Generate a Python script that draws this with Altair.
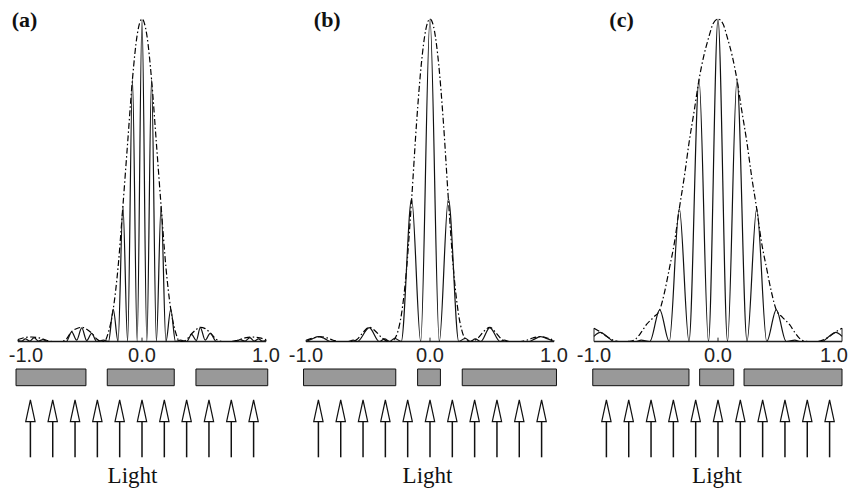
import altair as alt
import pandas as pd

# ---------------- data ----------------
TICKS = [-1.0, 0.0, 1.0]
TICK_LABELS = ["-1.0", "0.0", "1.0"]
ARROW_X = [-0.9, -0.72, -0.54, -0.36, -0.18, 0.0, 0.18, 0.36, 0.54, 0.72, 0.9]
PANEL_LABELS = ["(a)", "(b)", "(c)"]
CAPTION = "Light"

# interference pattern (x, relative intensity)
A_SOLID = [(-1.0, 0.004), (-0.97, 0.001), (-0.94, 0.008), (-0.905, 0.001), (-0.87, 0.012),
           (-0.835, 0.001), (-0.80, 0.006), (-0.76, 0.0), (-0.66, 0.0), (-0.61, 0.0),
           (-0.567, 0.03), (-0.527, 0.004), (-0.486, 0.042), (-0.446, 0.003), (-0.406, 0.025),
           (-0.365, 0.0), (-0.31, 0.004), (-0.27, 0.0), (-0.232, 0.10), (-0.193, 0.0),
           (-0.154, 0.42), (-0.116, 0.0), (-0.077, 0.813), (-0.039, 0.0), (0.0, 1.0),
           (0.039, 0.0), (0.077, 0.813), (0.116, 0.0), (0.154, 0.42), (0.193, 0.0),
           (0.232, 0.10), (0.27, 0.0), (0.31, 0.004), (0.36, 0.0), (0.40, 0.022),
           (0.438, 0.003), (0.47, 0.043), (0.51, 0.004), (0.55, 0.025), (0.60, 0.0),
           (0.66, 0.0), (0.76, 0.0), (0.79, 0.006), (0.83, 0.001), (0.87, 0.012),
           (0.905, 0.001), (0.94, 0.008), (0.97, 0.001), (1.0, 0.004)]
A_ENV = [(-1.0, 0.006), (-0.95, 0.012), (-0.89, 0.014), (-0.83, 0.011), (-0.77, 0.004),
         (-0.72, 0.0), (-0.66, 0.0), (-0.62, 0.004), (-0.567, 0.031), (-0.52, 0.041),
         (-0.486, 0.044), (-0.446, 0.038), (-0.406, 0.026), (-0.365, 0.008), (-0.33, 0.0),
         (-0.30, 0.002), (-0.27, 0.03), (-0.232, 0.10), (-0.193, 0.23), (-0.154, 0.42),
         (-0.116, 0.615), (-0.077, 0.813), (-0.039, 0.95), (0.0, 1.0), (0.039, 0.95),
         (0.077, 0.813), (0.116, 0.615), (0.154, 0.42), (0.193, 0.23), (0.232, 0.10),
         (0.27, 0.03), (0.30, 0.002), (0.33, 0.0), (0.365, 0.008), (0.40, 0.024),
         (0.44, 0.038), (0.47, 0.044), (0.51, 0.04), (0.55, 0.027), (0.61, 0.004),
         (0.66, 0.0), (0.72, 0.0), (0.77, 0.004), (0.83, 0.011), (0.885, 0.014),
         (0.95, 0.011), (1.0, 0.006)]
A_SLITS = [(-1.016, -0.452), (-0.28, 0.26), (0.435, 1.014)]
A_EDGE = [(-1.0, 0.006), (1.0, 0.006)]

B_SOLID = [(-1.0, 0.0), (-0.95, 0.008), (-0.90, 0.015), (-0.85, 0.009), (-0.80, 0.0),
           (-0.66, 0.0), (-0.62, 0.004), (-0.585, 0.0), (-0.49, 0.043), (-0.41, 0.0),
           (-0.365, 0.008), (-0.325, 0.0), (-0.285, 0.01), (-0.232, 0.0), (-0.148, 0.442),
           (-0.075, 0.0), (0.0, 1.0), (0.075, 0.0), (0.148, 0.442), (0.232, 0.0),
           (0.285, 0.01), (0.325, 0.0), (0.365, 0.008), (0.41, 0.0), (0.482, 0.043),
           (0.565, 0.0), (0.60, 0.004), (0.64, 0.0), (0.80, 0.0), (0.85, 0.009),
           (0.89, 0.015), (0.95, 0.008), (1.0, 0.0)]
B_ENV = [(-1.0, 0.004), (-0.95, 0.01), (-0.89, 0.015), (-0.83, 0.011), (-0.78, 0.004),
         (-0.74, 0.0), (-0.63, 0.0), (-0.59, 0.006), (-0.54, 0.028), (-0.49, 0.044),
         (-0.44, 0.032), (-0.39, 0.012), (-0.35, 0.002), (-0.32, 0.0), (-0.29, 0.006),
         (-0.26, 0.03), (-0.23, 0.085), (-0.19, 0.22), (-0.148, 0.442), (-0.108, 0.68),
         (-0.07, 0.86), (-0.035, 0.965), (0.0, 1.0), (0.035, 0.965), (0.07, 0.86),
         (0.108, 0.68), (0.148, 0.442), (0.19, 0.22), (0.23, 0.085), (0.26, 0.03),
         (0.29, 0.006), (0.32, 0.0), (0.35, 0.002), (0.39, 0.012), (0.435, 0.032),
         (0.482, 0.044), (0.53, 0.028), (0.58, 0.006), (0.62, 0.0), (0.73, 0.0),
         (0.78, 0.004), (0.83, 0.011), (0.885, 0.015), (0.95, 0.01), (1.0, 0.004)]
B_SLITS = [(-1.02, -0.276), (-0.10, 0.084), (0.26, 1.02)]
B_EDGE = [(-1.0, 0.004), (1.0, 0.004)]

C_SOLID = [(-1.0, 0.016), (-0.95, 0.028), (-0.89, 0.014), (-0.84, 0.0), (-0.66, 0.0),
           (-0.62, 0.004), (-0.55, 0.0), (-0.47, 0.098), (-0.393, 0.0), (-0.312, 0.412),
           (-0.234, 0.0), (-0.153, 0.812), (-0.077, 0.0), (0.0, 1.0), (0.077, 0.0),
           (0.153, 0.812), (0.234, 0.0), (0.312, 0.412), (0.393, 0.0), (0.47, 0.098),
           (0.55, 0.0), (0.62, 0.004), (0.66, 0.0), (0.84, 0.0), (0.89, 0.014),
           (0.95, 0.028), (1.0, 0.016)]
C_ENV = [(-1.0, 0.041), (-0.95, 0.03), (-0.90, 0.016), (-0.85, 0.005), (-0.80, 0.0),
         (-0.74, 0.0), (-0.70, 0.001), (-0.66, 0.009), (-0.62, 0.028), (-0.578, 0.052),
         (-0.52, 0.075), (-0.47, 0.098), (-0.43, 0.155), (-0.393, 0.225), (-0.35, 0.31),
         (-0.312, 0.412), (-0.27, 0.515), (-0.234, 0.615), (-0.19, 0.72), (-0.153, 0.812),
         (-0.115, 0.885), (-0.077, 0.94), (-0.04, 0.985), (0.0, 1.0), (0.04, 0.985),
         (0.077, 0.94), (0.115, 0.885), (0.153, 0.812), (0.19, 0.72), (0.234, 0.615),
         (0.27, 0.515), (0.312, 0.412), (0.35, 0.31), (0.393, 0.225), (0.43, 0.155),
         (0.47, 0.098), (0.52, 0.075), (0.578, 0.052), (0.62, 0.028), (0.66, 0.009),
         (0.70, 0.001), (0.74, 0.0), (0.80, 0.0), (0.85, 0.005), (0.90, 0.016),
         (0.95, 0.03), (1.0, 0.041)]
C_SLITS = [(-1.01, -0.234), (-0.148, 0.127), (0.21, 1.0)]
C_EDGE = [(-1.0, 0.041), (1.0, 0.041)]

# ---------------- layout (pixels inside each panel) ----------------
W = 248
H = 470
BASE_G = 333.5     # pixel row of intensity 0
TOP_G = 11.0       # pixel row of intensity 1
PX = BASE_G - TOP_G
Y_DOMAIN = [(BASE_G - H) / PX, BASE_G / PX]

XS = alt.Scale(domain=[TICKS[0], TICKS[-1]], nice=False, zero=False)
YS = alt.Scale(domain=Y_DOMAIN, nice=False, zero=False)


def X(field):
    return alt.X(field, type="quantitative", scale=XS, axis=None)


def Y(field):
    return alt.Y(field, type="quantitative", scale=YS, axis=None)


def panel(solid, env, slits, edge, label, label_x, light_x, tick_dx):
    sdf = pd.DataFrame(solid, columns=["x", "h"])
    edf = pd.DataFrame(env, columns=["x", "h"])
    layers = []
    # baseline (axis line)
    layers.append(
        alt.Chart(pd.DataFrame({"x": [TICKS[0]], "x2": [TICKS[-1]], "h": [0.0]}))
        .mark_rule(color="#222222", strokeWidth=1.3)
        .encode(x=X("x"), x2="x2:Q", y=Y("h"))
    )
    # small edge lines and centre tick
    layers.append(
        alt.Chart(pd.DataFrame(edge, columns=["x", "h"]).assign(h0=0.0))
        .mark_rule(color="#222222", strokeWidth=1.0)
        .encode(x=X("x"), y=Y("h0"), y2="h:Q")
    )
    layers.append(
        alt.Chart(pd.DataFrame({"x": [TICKS[1]], "h0": [0.0], "h": [0.012]}))
        .mark_rule(color="#222222", strokeWidth=1.0)
        .encode(x=X("x"), y=Y("h0"), y2="h:Q")
    )
    # envelope (dash-dot)
    layers.append(
        alt.Chart(edf)
        .mark_line(interpolate="monotone", color="#000000", strokeWidth=1.2,
                   strokeDash=[6, 2.5, 1.5, 2.5])
        .encode(x=X("x"), y=Y("h"))
    )
    # fringes
    layers.append(
        alt.Chart(sdf)
        .mark_line(interpolate="monotone", color="#111111", strokeWidth=1.2)
        .encode(x=X("x"), y=Y("h"))
    )
    # tick labels
    for t, lab, dx in zip(TICKS, TICK_LABELS, tick_dx):
        layers.append(
            alt.Chart(pd.DataFrame({"t": [t], "lab": [lab]}))
            .mark_text(font="Liberation Sans", fontSize=20, color="#222222",
                       baseline="alphabetic", align="center", dx=dx)
            .encode(x=X("t"), y=alt.value(353.5), text="lab:N")
        )
    # slits (opaque screen pieces)
    layers.append(
        alt.Chart(pd.DataFrame(slits, columns=["x", "x2"]))
        .mark_rect(fill="#999999", stroke="#111111", strokeWidth=1.0)
        .encode(x=X("x"), x2="x2:Q", y=alt.value(361.0), y2=alt.value(377.7))
    )
    # arrows
    adf = pd.DataFrame({"x": ARROW_X})
    layers.append(
        alt.Chart(adf)
        .mark_rule(color="#111111", strokeWidth=1.5)
        .encode(x=X("x"), y=alt.value(413.5), y2=alt.value(449.3))
    )
    layers.append(
        alt.Chart(adf)
        .mark_point(shape="M0,-1L0.43,1L-0.43,1Z", size=471, filled=True,
                    fill="white", stroke="#111111", strokeWidth=1.2, opacity=1)
        .encode(x=X("x"), y=alt.value(402.85))
    )
    # caption
    layers.append(
        alt.Chart(pd.DataFrame({"c": [CAPTION]}))
        .mark_text(font="Liberation Serif", fontSize=23, color="#111111",
                   baseline="alphabetic", align="center")
        .encode(x=alt.value(light_x), y=alt.value(475.3), text="c:N")
    )
    # panel label
    layers.append(
        alt.Chart(pd.DataFrame({"l": [label]}))
        .mark_text(font="Liberation Serif", fontSize=22, fontWeight="bold",
                   color="#111111", baseline="top", align="left")
        .encode(x=alt.value(label_x), y=alt.value(2.0), text="l:N")
    )
    return alt.layer(*layers).properties(width=W, height=H)


pa = panel(A_SOLID, A_ENV, A_SLITS, A_EDGE, PANEL_LABELS[0], -6.3, 114.5, [8, 0, 0])
pb = panel(B_SOLID, B_ENV, B_SLITS, B_EDGE, PANEL_LABELS[1], 7.8, 121.5, [0, 0, 0])
pc = panel(C_SOLID, C_ENV, C_SLITS, C_EDGE, PANEL_LABELS[2], 15.3, 123.0, [0, 0, -8])

chart = (
    alt.hconcat(pa, pb, pc, spacing=40, bounds="flush")
    .properties(padding={"left": 0, "top": 0, "right": 0, "bottom": 0})
    .configure(background="white")
    .configure_view(stroke=None)
)

chart.save("out.html", embed_options={"renderer": "svg", "actions": False})
